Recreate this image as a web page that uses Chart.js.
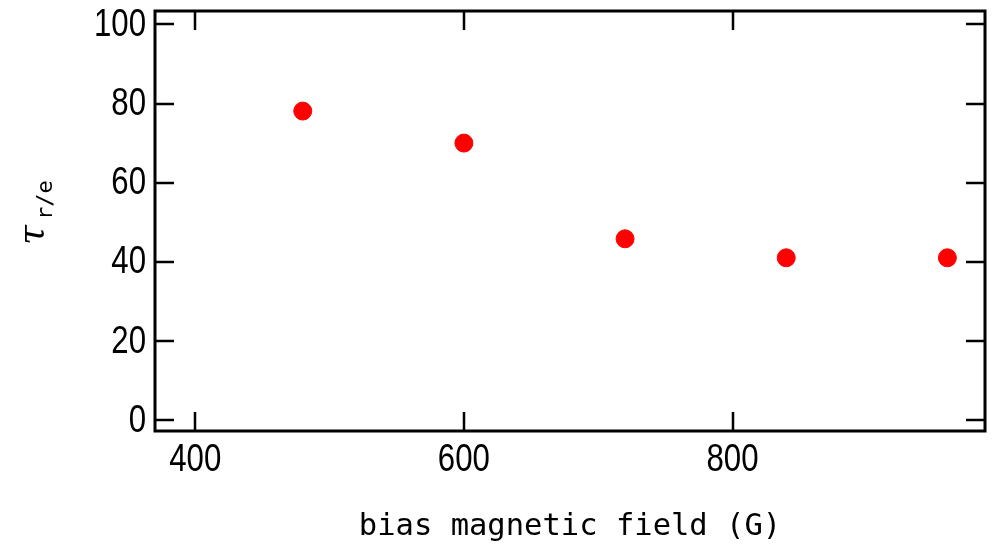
<!DOCTYPE html>
<html>
<head>
<meta charset="utf-8">
<script src="https://cdn.jsdelivr.net/npm/chart.js@4"></script>
<style>
  html, body { margin: 0; padding: 0; background: #fff; }
  #wrap { width: 995px; height: 546px; }
</style>
</head>
<body>
<div id="wrap"><canvas id="scatterChart"></canvas></div>
<script>
const fieldValues = [480, 600, 720, 840, 960];
const tauValues = [78.1, 70.0, 45.8, 41.0, 41.0];
const xTicks = [400, 600, 800];
const yTicks = [0, 20, 40, 60, 80, 100];

const tickFont = "39px 'Liberation Sans', Arial, sans-serif";
const titleFont = "'DejaVu Sans Mono', monospace";
const squeeze = 0.8; // narrow digits like the original

// tick marks pointing inward on all four sides, the frame, condensed tick labels and the y title
const frameTicks = {
    id: 'frameTicks',
    afterDraw(chart) {
        const c = chart.ctx;
        const a = chart.chartArea;
        const xs = chart.scales.x, ys = chart.scales.y;
        const len = 19;
        c.save();
        c.strokeStyle = '#000';
        c.lineWidth = 2.5;
        c.beginPath();
        xTicks.forEach(v => {
            const px = Math.round(xs.getPixelForValue(v));
            c.moveTo(px, a.bottom); c.lineTo(px, a.bottom - len);
            c.moveTo(px, a.top); c.lineTo(px, a.top + len);
        });
        yTicks.forEach(v => {
            const py = Math.round(ys.getPixelForValue(v));
            c.moveTo(a.left, py); c.lineTo(a.left + len, py);
            c.moveTo(a.right, py); c.lineTo(a.right - len, py);
        });
        c.stroke();
        c.lineWidth = 3;
        c.strokeRect(a.left, a.top, a.right - a.left, a.bottom - a.top);

        c.fillStyle = '#000';
        c.font = tickFont;
        c.textBaseline = 'middle';
        yTicks.forEach(v => {
            const py = ys.getPixelForValue(v);
            c.save();
            c.translate(a.left - 9, py + 1);
            c.scale(squeeze, 1);
            c.textAlign = 'right';
            c.fillText(String(v), 0, 0);
            c.restore();
        });
        xTicks.forEach(v => {
            const px = xs.getPixelForValue(v);
            c.save();
            c.translate(px, a.bottom + 29);
            c.scale(squeeze, 1);
            c.textAlign = 'center';
            c.fillText(String(v), 0, 0);
            c.restore();
        });

        // y axis title: tau with subscript r/e, rotated
        c.translate(43, 225);
        c.rotate(-Math.PI / 2);
        c.textBaseline = 'alphabetic';
        c.textAlign = 'left';
        c.font = "italic 36px 'DejaVu Serif', serif";
        c.fillText('\u03c4', -20, 0);
        c.font = "22px " + titleFont;
        c.fillText('r/e', 5, 9);
        c.restore();
    }
};

const ctx = document.getElementById('scatterChart').getContext('2d');
new Chart(ctx, {
    type: 'scatter',
    data: {
        datasets: [{
            data: fieldValues.map((x, i) => ({ x: x, y: tauValues[i] })),
            backgroundColor: '#ff0000',
            borderColor: '#ff0000',
            pointRadius: 9,
            pointHoverRadius: 9
        }]
    },
    options: {
        responsive: true,
        maintainAspectRatio: false,
        animation: false,
        layout: { padding: { top: 11, right: 8 } },
        plugins: { legend: { display: false }, tooltip: { enabled: false } },
        scales: {
            x: {
                type: 'linear',
                min: 370,
                max: 988,
                afterBuildTicks: axis => { axis.ticks = xTicks.map(v => ({ value: v })); },
                afterFit: axis => { axis.height = 115; },
                grid: { display: false, drawTicks: false },
                border: { display: false },
                ticks: { display: false },
                title: {
                    display: true,
                    text: 'bias magnetic field (G)',
                    color: '#000',
                    padding: { top: 0, bottom: 1 },
                    font: { family: titleFont, size: 30.5 }
                }
            },
            y: {
                min: -2.8,
                max: 103.4,
                afterBuildTicks: axis => { axis.ticks = yTicks.map(v => ({ value: v })); },
                afterFit: axis => { axis.width = 155; },
                grid: { display: false, drawTicks: false },
                border: { display: false },
                ticks: { display: false }
            }
        }
    },
    plugins: [frameTicks]
});
</script>
</body>
</html>
